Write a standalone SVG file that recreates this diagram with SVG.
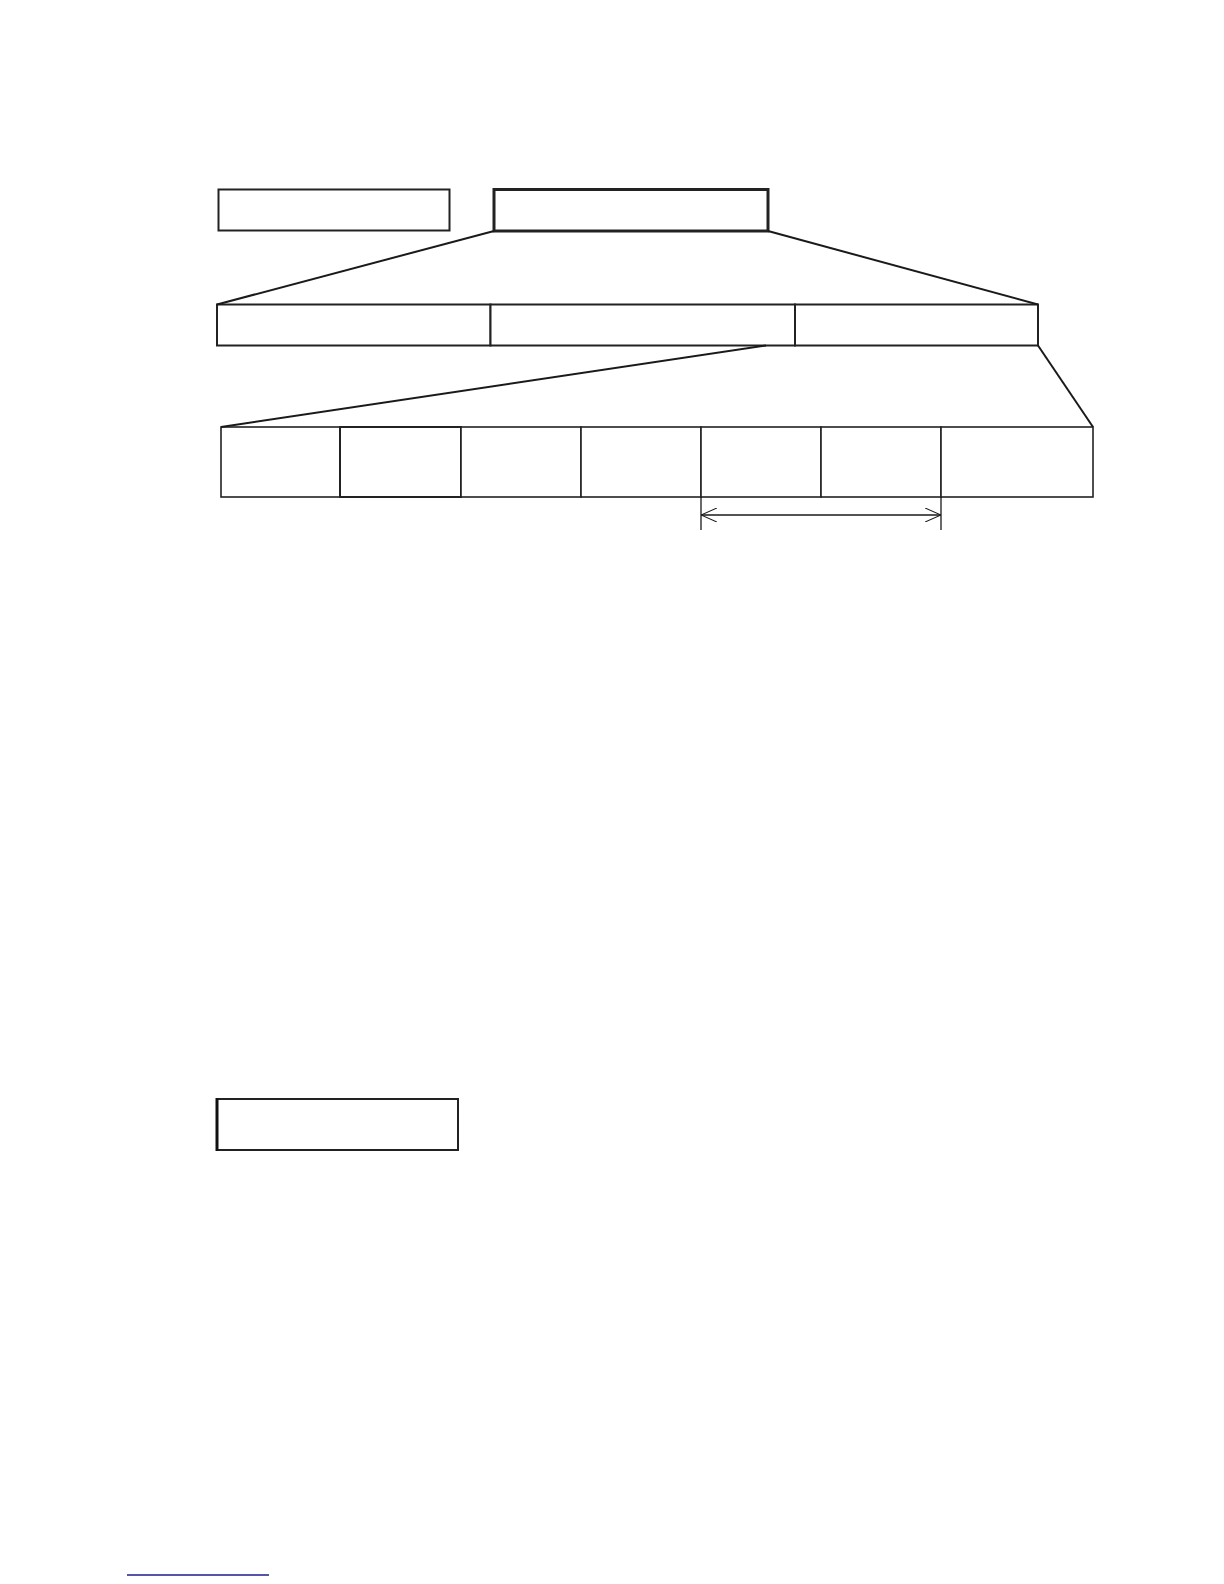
<svg xmlns="http://www.w3.org/2000/svg" width="1224" height="1584" viewBox="0 0 1224 1584">
<style>
.box{fill:#fff;stroke:#222;stroke-width:2}
.thick{stroke-width:3}
.cell{fill:#fff;stroke:#222;stroke-width:1.6}
.conn{stroke:#1a1a1a;stroke-width:2;fill:none}
.dim{stroke:#1a1a1a;stroke-width:1.3;fill:none}
</style>
<defs>
<marker id="openArrow" viewBox="0 0 16 14" refX="16" refY="7" markerWidth="16" markerHeight="14" markerUnits="userSpaceOnUse" orient="auto-start-reverse">
<path d="M0,0 L16,7 L0,14" fill="none" stroke="#1a1a1a" stroke-width="1.1"/>
</marker>
</defs>
<rect width="1224" height="1584" fill="#fff"/>
<g id="box-a"><rect class="box" x="218.5" y="189.5" width="231" height="41"/></g>
<g id="box-b"><rect class="box thick" x="494" y="189.5" width="274" height="41.5"/></g>
<g id="row2-1"><rect class="box" x="217" y="304.5" width="273.5" height="41"/></g>
<g id="row2-2"><rect class="box" x="490.5" y="304.5" width="304.5" height="41"/></g>
<g id="row2-3"><rect class="box" x="795" y="304.5" width="243" height="41"/></g>
<g id="row3-1"><rect class="cell" x="221" y="427" width="119" height="70"/></g>
<g id="row3-2"><rect class="cell" x="340" y="427" width="121" height="70" style="stroke-width:2"/></g>
<g id="row3-3"><rect class="cell" x="461" y="427" width="120" height="70"/></g>
<g id="row3-4"><rect class="cell" x="581" y="427" width="120" height="70"/></g>
<g id="row3-5"><rect class="cell" x="701" y="427" width="120" height="70"/></g>
<g id="row3-6"><rect class="cell" x="821" y="427" width="120" height="70"/></g>
<g id="row3-7"><rect class="cell" x="941" y="427" width="152" height="70"/></g>
<g id="box-bottom"><rect class="box" x="217" y="1099" width="241" height="51"/><line x1="217" y1="1098" x2="217" y2="1151" stroke="#111" stroke-width="3"/></g>
<g id="connectors">
<line class="conn" x1="494" y1="231" x2="217" y2="304.5"/>
<line class="conn" x1="768" y1="231" x2="1038" y2="304.5"/>
<line class="conn" x1="766" y1="345.5" x2="221" y2="427"/>
<line class="conn" x1="1038" y1="345.5" x2="1093" y2="427"/>
<line class="dim" x1="701" y1="497" x2="701" y2="530"/>
<line class="dim" x1="941" y1="497" x2="941" y2="530"/>
<line class="dim" x1="701" y1="515" x2="941" y2="515" marker-start="url(#openArrow)" marker-end="url(#openArrow)"/>
</g>
<line x1="127" y1="1575" x2="269" y2="1575" stroke="#1c1c8a" stroke-width="1.5"/>
</svg>
